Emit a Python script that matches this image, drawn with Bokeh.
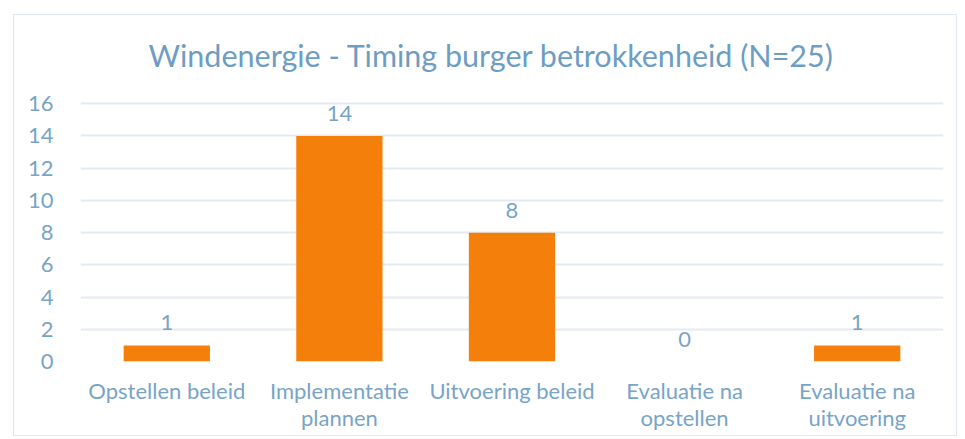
from bokeh.plotting import figure
from bokeh.models import ColumnDataSource, LabelSet, FixedTicker, LinearAxis, Label, Range1d
from bokeh.core.properties import value
from bokeh.embed import file_html
from bokeh.resources import INLINE

categories = ["Opstellen beleid", "Implementatie plannen", "Uitvoering beleid",
              "Evaluatie na opstellen", "Evaluatie na uitvoering"]
label_line1 = ["Opstellen beleid", "Implementatie", "Uitvoering beleid",
               "Evaluatie na", "Evaluatie na"]
label_line2 = ["", "plannen", "", "opstellen", "uitvoering"]
values = [1, 14, 8, 0, 1]
y_ticks = [0, 2, 4, 6, 8, 10, 12, 14, 16]
title_text = "Windenergie - Timing burger betrokkenheid (N=25)"

FONT = "Lato"
TXT = "#78A4C6"
GRID = "#E3EAF1"

xpos = list(range(len(categories)))
src = ColumnDataSource(dict(x=xpos, cat=categories, val=values, lab=[str(v) for v in values]))

# frame extends into the top margin so the title can sit inside it (no grid above 16)
p = figure(x_range=Range1d(-0.5, len(categories) - 0.5), y_range=Range1d(0, 21.17),
           width=944, height=422, output_backend="svg", toolbar_location=None,
           min_border_left=66, min_border_right=15, min_border_bottom=76, min_border_top=5)
p.styles = {"margin-left": "13px", "margin-top": "14px", "border": "1px solid #E1E8EF"}

title = Label(x=1.881, y=19.0, text=title_text,
              text_align="center", text_baseline="middle", text_font=FONT,
              text_font_size="30.5px", text_color="#6E9DC2")
p.add_layout(title)

p.vbar(x="x", top="val", width=0.5, source=src, color="#F47F0A", line_color=None)

labels = LabelSet(x="x", y="val", text="lab", source=src, text_align="center",
                  text_baseline="bottom", y_offset=15, text_font=value(FONT),
                  text_font_size="22px", text_color=TXT)
p.add_layout(labels)

xaxis2 = LinearAxis()
p.add_layout(xaxis2, "below")

p.outline_line_color = None
p.background_fill_color = "white"
p.border_fill_color = "white"
p.xgrid.grid_line_color = None
p.ygrid.grid_line_color = GRID
p.ygrid.grid_line_width = 2
p.yaxis.ticker = FixedTicker(ticks=y_ticks)
p.xaxis[0].ticker = FixedTicker(ticks=xpos)
xaxis2.ticker = FixedTicker(ticks=xpos)
for ax in (p.xaxis[0], xaxis2, p.yaxis[0]):
    ax.axis_line_color = None
    ax.major_tick_line_color = None
    ax.minor_tick_line_color = None
    ax.major_label_text_font = FONT
    ax.major_label_text_font_size = "22px"
    ax.major_label_text_color = TXT
p.yaxis.major_label_standoff = 21
p.xaxis[0].major_label_standoff = 9
xaxis2.major_label_standoff = -9
p.xaxis[0].major_label_overrides = {i: t for i, t in zip(xpos, label_line1)}
xaxis2.major_label_overrides = {i: t for i, t in zip(xpos, label_line2)}

open("out.html", "w").write(file_html(p, INLINE))
